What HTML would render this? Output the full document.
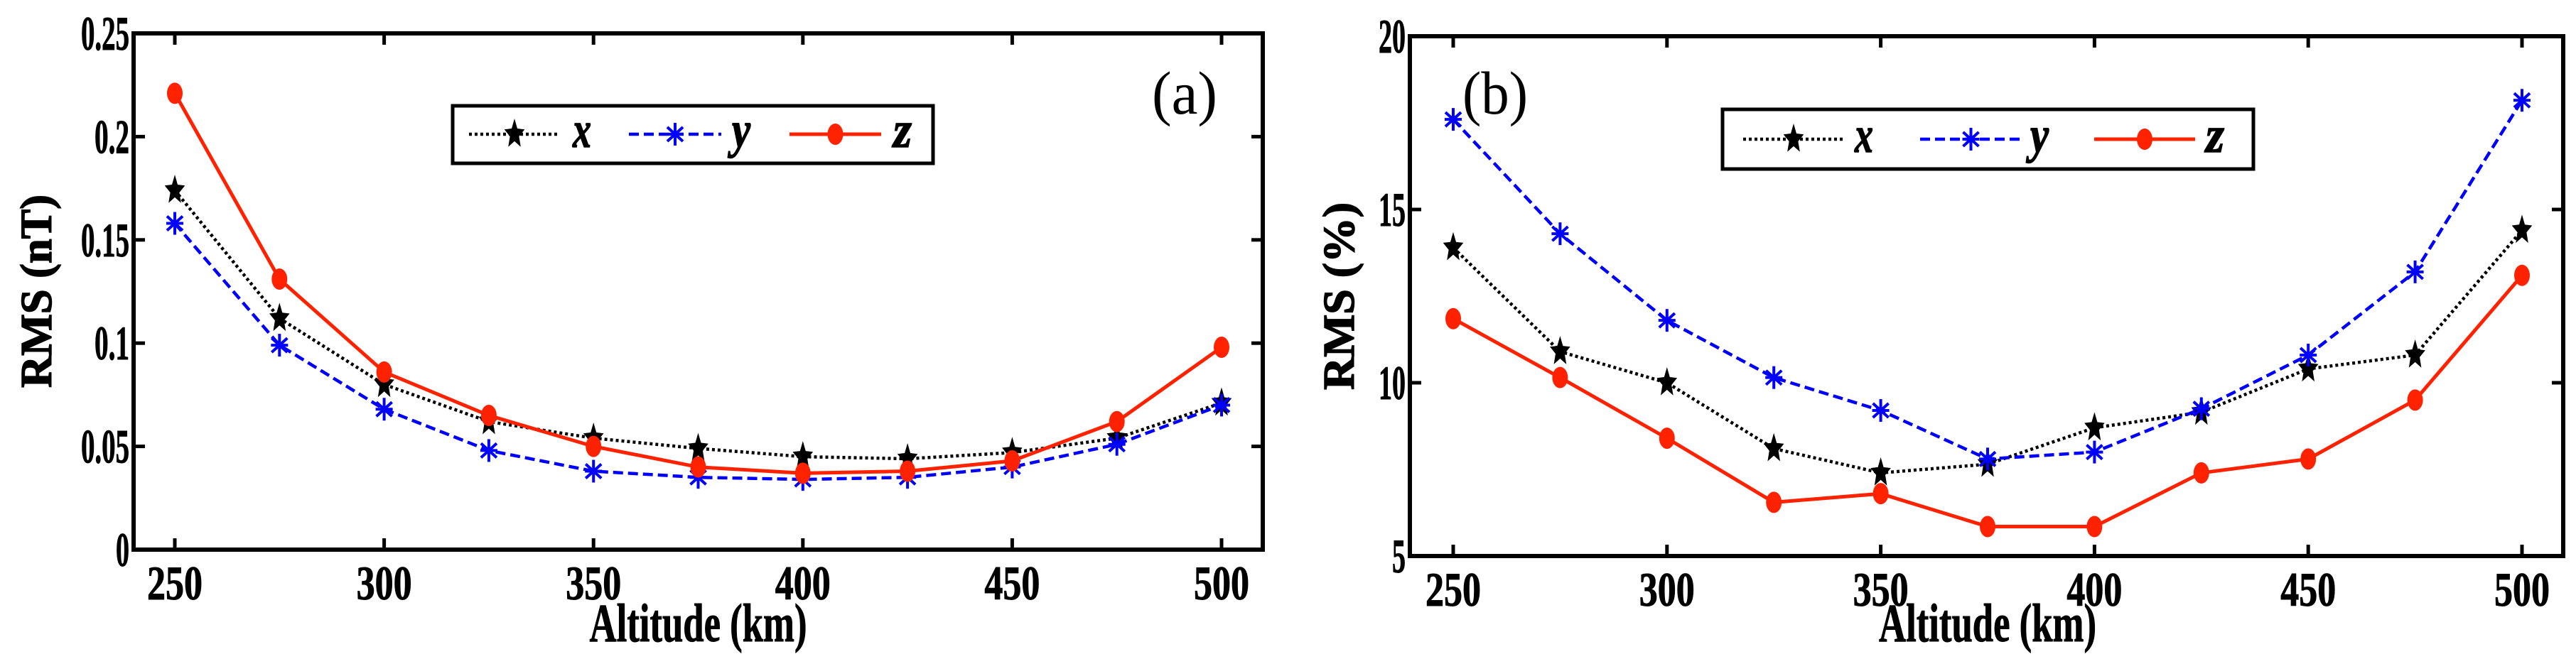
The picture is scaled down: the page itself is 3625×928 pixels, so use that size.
<!DOCTYPE html>
<html><head><meta charset="utf-8"><style>
html,body{margin:0;padding:0;background:#fff;}
svg{display:block;}
</style></head><body>
<svg id="fig" xmlns="http://www.w3.org/2000/svg" width="3625" height="928" viewBox="0 0 3625 928"></svg>
<script>
const altitudes = [250,275,300,325,350,375,400,425,450,475,500];
const aX = [0.174,0.112,0.080,0.062,0.054,0.049,0.045,0.044,0.047,0.054,0.071];
const aY = [0.158,0.099,0.068,0.048,0.038,0.035,0.034,0.035,0.040,0.051,0.070];
const aZ = [0.221,0.131,0.086,0.065,0.050,0.040,0.037,0.038,0.043,0.062,0.098];
const bX = [13.9,10.9,10.0,8.1,7.4,7.65,8.7,9.15,10.4,10.8,14.4];
const bY = [17.6,14.3,11.8,10.15,9.2,7.8,8.0,9.25,10.8,13.2,18.15];
const bZ = [11.85,10.15,8.4,6.55,6.8,5.85,5.85,7.4,7.8,9.5,13.1];
const xTicks = [250,300,350,400,450,500];
const aYTicks = [0,0.05,0.1,0.15,0.2,0.25];
const aYTickLabels = ["0","0.05","0.1","0.15","0.2","0.25"];
const bYTicks = [5,10,15,20];
const bYTickLabels = ["5","10","15","20"];
const seriesNames = ["x","y","z"];

const NS="http://www.w3.org/2000/svg";
const svg=document.getElementById('fig');
function mk(tag,attrs,parent){const e=document.createElementNS(NS,tag);for(const k in attrs)e.setAttribute(k,attrs[k]);(parent||svg).appendChild(e);return e;}
function starPts(cx,cy,rx,ry){let p=[];for(let i=0;i<10;i++){const a=-Math.PI/2+i*Math.PI/5;const r=i%2?0.45:1;p.push((cx+r*rx*Math.cos(a)).toFixed(1)+','+(cy+r*ry*Math.sin(a)).toFixed(1));}return p.join(' ');}
function drawMarker(g,kind,cx,cy){
  if(kind==='star'){const m=mk('polygon',{points:starPts(cx,cy,15,22),fill:'#000'},g);}
  else if(kind==='ast'){const gg=mk('g',{stroke:'#0000ff','stroke-width':4},g);
    mk('line',{x1:cx,y1:cy-16,x2:cx,y2:cy+16},gg);mk('line',{x1:cx-11,y1:cy-10,x2:cx+11,y2:cy+10},gg);mk('line',{x1:cx-11,y1:cy+10,x2:cx+11,y2:cy-10},gg);mk('line',{x1:cx-12,y1:cy,x2:cx+12,y2:cy},gg);}
  else{const m=mk('ellipse',{cx:cx,cy:cy,rx:11,ry:15,fill:'#ff2200'},g);}
}
const styles=[{color:'#000',dash:'4 4',w:4.5,marker:'star'},{color:'#0000ff',dash:'14 7',w:4.5,marker:'ast'},{color:'#ff2200',dash:'',w:5,marker:'circle'}];
function txt(parent,s,x,y,size,anchor,len,opts){
  opts=opts||{};
  const t=mk('text',{x:x,y:y,'font-family':'"Liberation Serif", serif','font-size':size,'font-weight':opts.weight||'bold','text-anchor':anchor,fill:'#000'},parent);
  if(opts.italic)t.setAttribute('font-style','italic');
  if(opts.stroke){t.setAttribute('stroke','#000');t.setAttribute('stroke-width',opts.stroke);}
  if(len){t.setAttribute('textLength',len);t.setAttribute('lengthAdjust','spacingAndGlyphs');}
  if(opts.transform)t.setAttribute('transform',opts.transform);
  t.textContent=s;return t;
}
function panel(p){
  const g=mk('g',{});
  const sx=v=>p.x250+(v-250)*(p.x500-p.x250)/250;
  const sy=v=>p.bottom-(v-p.ymin)*(p.bottom-p.top)/(p.ymax-p.ymin);
  const tg=mk('g',{stroke:'#000','stroke-width':5},g);
  xTicks.forEach(v=>{const x=sx(v);mk('line',{x1:x,y1:p.bottom,x2:x,y2:p.bottom-16},tg);mk('line',{x1:x,y1:p.top,x2:x,y2:p.top+16},tg);
    const t=txt(g,String(v),x,p.bottom+70,68,'middle',78,{stroke:1});});
  p.yticks.forEach((v,i)=>{const y=sy(v);mk('line',{x1:p.left,y1:y,x2:p.left+16,y2:y},tg);mk('line',{x1:p.right,y1:y,x2:p.right-16,y2:y},tg);
    const s=p.ylabels[i];const t=txt(g,s,p.left-6,y+23,68,'end',s.length*19+(s.indexOf('.')>=0?-8:0),{stroke:1});});
  p.series.forEach((vals,si)=>{
    const st=styles[si];const sg=mk('g',{},g);
    const pts=vals.map((v,i)=>sx(altitudes[i]).toFixed(1)+','+sy(v).toFixed(1)).join(' ');
    const pl=mk('polyline',{points:pts,fill:'none',stroke:st.color,'stroke-width':st.w},sg);if(st.dash)pl.setAttribute('stroke-dasharray',st.dash);
    
    vals.forEach((v,i)=>drawMarker(sg,st.marker,sx(altitudes[i]),sy(v)));
  });
  const box=mk('rect',{x:p.left,y:p.top,width:p.right-p.left,height:p.bottom-p.top,fill:'none',stroke:'#000','stroke-width':6},g);
  
  const lg=mk('g',{},g);
  mk('rect',{x:p.leg.x,y:p.leg.y,width:p.leg.w,height:p.leg.h,fill:'#fff',stroke:'#000','stroke-width':5},lg);
  p.leg.entries.forEach((e,i)=>{const st=styles[i];const eg=mk('g',{},lg);
    const l=mk('line',{x1:e[0],y1:p.leg.cy,x2:e[1],y2:p.leg.cy,stroke:st.color,'stroke-width':st.w},eg);if(st.dash)l.setAttribute('stroke-dasharray',st.dash);
    drawMarker(eg,st.marker,(e[0]+e[1])/2,p.leg.cy);
    txt(eg,seriesNames[i],e[2],p.leg.cy+18,72,'start',26,{italic:true,stroke:1.5});});
  const xl=txt(g,'Altitude (km)',(p.x250+p.x500)/2,903,76,'middle',306,{stroke:1});
  const yl=txt(g,p.ytitle,0,0,62,'middle',p.ytlen,{transform:'translate('+(p.ytx)+','+p.yty+') rotate(-90)',stroke:1.5});
  const pl=txt(g,p.tag,p.tagx,160,86,'start',92,{weight:'normal'});
}
panel({name:'panel-a',left:188,right:1777,top:47,bottom:774,x250:246,x500:1719,ymin:0,ymax:0.25,yticks:aYTicks,ylabels:aYTickLabels,
  series:[aX,aY,aZ],ytitle:'RMS (nT)',ytx:72,yty:410,ytlen:272,tag:'(a)',tagx:1621,
  leg:{x:637,y:149,w:676,h:81,cy:189,entries:[[660,788,806],[885,1015,1030],[1111,1240,1257]]}});
panel({name:'panel-b',left:1984,right:3607,top:51,bottom:783,x250:2045,x500:3549,ymin:5,ymax:20,yticks:bYTicks,ylabels:bYTickLabels,
  series:[bX,bY,bZ],ytitle:'RMS (%)',ytx:1905,yty:417,ytlen:264,tag:'(b)',tagx:2058,
  leg:{x:2424,y:154,w:747,h:84,cy:196,entries:[[2453,2595,2610],[2702,2845,2857],[2947,3089,3104]]}});
</script>
</body></html>
